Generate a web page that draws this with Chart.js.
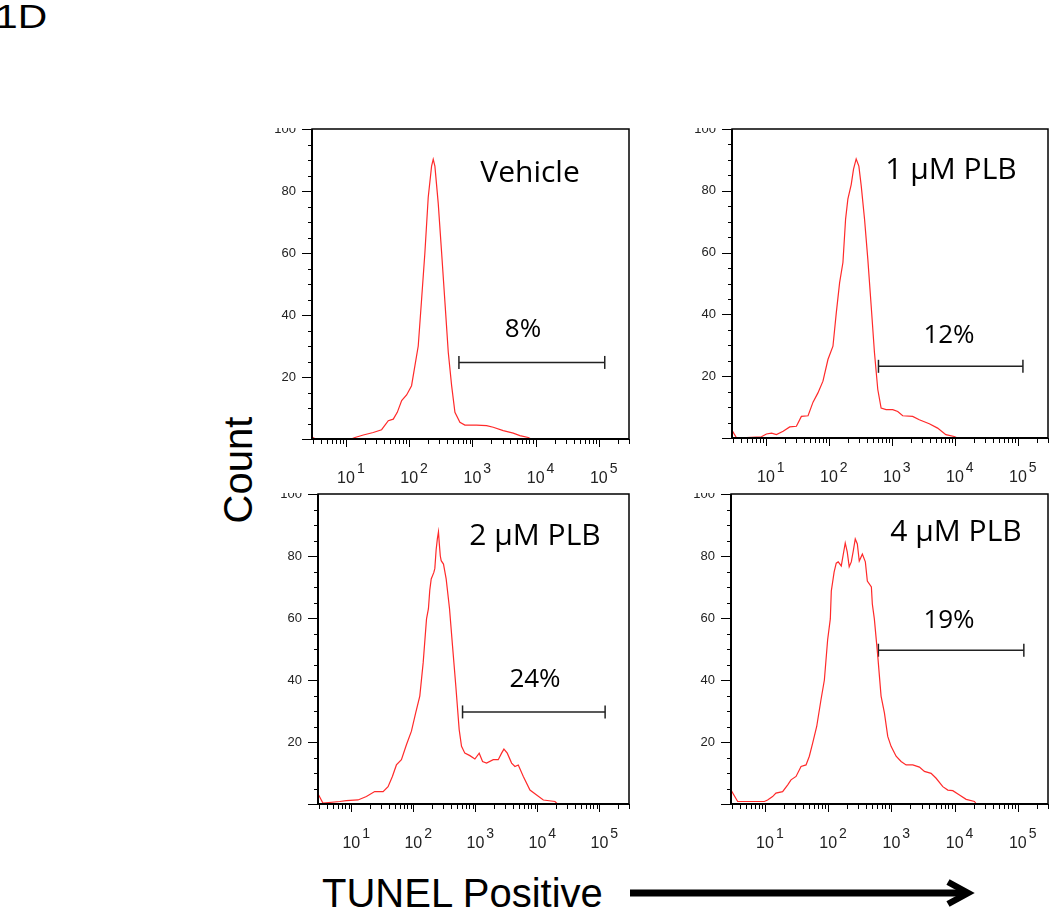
<!DOCTYPE html>
<html>
<head>
<meta charset="utf-8">
<script src="https://cdn.jsdelivr.net/npm/chart.js@4.4.1/dist/chart.umd.min.js"></script>
<style>
    body {
        margin: 0;
        width: 1050px;
        height: 909px;
        position: relative;
        overflow: hidden;
        background: #fff;
    }
    canvas { position: absolute; }
    .txt {
        position: absolute;
        color: #000;
        font-family: "Liberation Sans", Arial, sans-serif;
        line-height: 1;
        white-space: nowrap;
    }
</style>
</head>
<body>
<div class="txt" style="left:-5px; top:-1px; font-size:34px; transform:scaleX(1.2); transform-origin:left top;">1D</div>
<div class="txt" style="left:178px; top:450px; width:120px; text-align:center; font-size:40px; transform:rotate(-90deg);">Count</div>
<div class="txt" style="left:322px; top:873px; font-size:40px;">TUNEL Positive</div>
<svg style="position:absolute; left:0; top:0;" width="1050" height="909">
    <line x1="630" y1="893" x2="966" y2="893" stroke="#000" stroke-width="7"/>
    <polyline points="948,882 968,893 948,904" fill="none" stroke="#000" stroke-width="6.5" stroke-linejoin="miter"/>
</svg>

<canvas id="p1" width="375" height="362" style="left:265px; top:128px;"></canvas>
<canvas id="p2" width="365" height="362" style="left:685px; top:128px;"></canvas>
<canvas id="p3" width="375" height="365" style="left:265px; top:493px;"></canvas>
<canvas id="p4" width="365" height="365" style="left:685px; top:493px;"></canvas>

<script>
// TUNEL intensity (x) and count (y)
const vehicleX = [2.9, 3.3, 12, 13.9, 18.8, 27, 36.6, 46.7, 56, 64.8, 76, 91, 109, 123, 139, 157, 177, 200, 226, 240,
    255, 288, 326, 368, 415, 469, 529, 634, 760, 1163, 1675, 2135, 3070, 4420, 5640, 7640, 8500];
const vehicleY = [0.6, 0, 0, 0.5, 1.3, 2.1, 3, 5.9, 6.4, 8.6, 12.4, 14.2, 17.2, 23.6, 30, 45, 60, 78, 88, 90.2,
    88, 76, 60, 44, 28, 17.2, 8.6, 5.4, 4.5, 4.5, 4.3, 3.8, 2.7, 1.9, 1.1, 0.5, 0];

const plb1X = [2.86, 3.43, 8.5, 10.2, 12.3, 14.7, 18.8, 23.9, 30.5, 36.6, 46.7, 56, 67, 80.5, 96.6, 116, 131, 148, 167, 184,
    200, 226, 246, 271, 299, 326, 368, 415, 469, 529, 597, 674, 809, 1031, 1237, 1484, 2135, 2720, 3920, 5310,
    7180, 9720, 11000];
const plb1Y = [2.7, 0, 0.4, 1.3, 1.6, 1.1, 2.2, 3.6, 3.8, 7, 7.2, 11.6, 14.6, 18.4, 25.4, 29.7, 40.5, 50.3, 56.8, 70.8,
    77.3, 82, 87, 90.3, 88, 81.6, 70.8, 57.8, 42.7, 27.6, 15.7, 9.7, 9.2, 9.2, 8.6, 7.2, 7, 5.9, 4.6, 3.2,
    1.1, 0.5, 0];

const plb2X = [2.97, 3.48, 6.5, 8.3, 12.8, 17.5, 23.8, 32.5, 39.1, 45.9, 53.3, 64.2, 77.3, 93.1, 109, 127, 144, 163, 175, 184,
    194, 214, 222, 233, 244, 254, 262, 272, 281, 306, 338, 383, 428, 484, 548, 598, 676, 815, 982, 1153,
    1306, 1514, 1941, 2338, 2648, 2886, 3268, 3838, 4345, 4920, 5930, 7590, 9720, 12470, 19230, 21000];
const plb2Y = [2.9, 0.3, 0.8, 1.1, 1.3, 2.4, 4, 4, 5.6, 8.9, 12.6, 14.3, 19.1, 23.5, 29.4, 34.8, 45.6, 59.7, 63, 69,
    72.6, 74.7, 76, 82, 85.6, 87.8, 84, 80, 78.5, 77.4, 72.6, 63, 51, 38, 24, 18.6, 16.4, 15.6, 14.5, 16.4,
    13.7, 13.2, 14.3, 14.3, 16.4, 17.7, 16.4, 13.2, 12.1, 12.6, 8.9, 4.5, 2.9, 1.3, 0.8, 0];

const plb4X = [2.9, 3.7, 9.8, 11, 13.2, 14.9, 19, 22.9, 25.8, 31, 37.2, 44.6, 50.3, 56.9, 65.8, 77, 87, 98, 108, 112,
    124, 134, 144, 161, 186, 200, 215, 232, 249, 268, 289, 310, 347, 387, 416, 482, 499, 537, 608, 686,
    775, 875, 988, 1186, 1423, 1707, 2177, 2775, 3328, 4245, 5096, 6500, 7800, 9350, 11930, 15220, 20600, 22000];
const plb4Y = [4.5, 0.8, 0.8, 1.3, 2.4, 3.5, 4, 6.2, 7.8, 8.9, 12.1, 12.6, 15.4, 19.7, 25, 33.7, 40, 53, 59.7, 68.7,
    74.8, 77.7, 78.1, 76.8, 84.2, 81.3, 76.5, 78.1, 81.6, 85.5, 83.9, 78.4, 80.6, 78.1, 71.9, 70, 64.5, 59.7, 47.8, 34.8,
    29.4, 21.8, 18.6, 15.4, 13.7, 12.6, 12.6, 11.9, 10.5, 9.9, 8.3, 5.6, 4.5, 4.3, 2.9, 1.5, 0.8, 0];

const panelTitles = ['Vehicle', '1 µM PLB', '2 µM PLB', '4 µM PLB'];
const gatePercents = ['8%', '12%', '24%', '19%'];
const gateStarts = [612, 612, 621, 622];
const gateEnds = [124000, 120000, 123600, 124400];
const gateLevels = [24.7, 23.2, 29.7, 49.6];

const xTickExponents = [1, 2, 3, 4, 5];
const yTickLabels = [20, 40, 60, 80, 100];

const X_MIN = 2.9;
const X_MAX = 300000;
const AXIS_FONT = '"Liberation Sans", Arial, sans-serif';
const LABEL_FONT = '"Open Sans", sans-serif';

const decor = {
    id: 'decor',
    afterDraw(chart, args, o) {
        const { ctx, chartArea: a } = chart;
        const sx = chart.scales.x;
        const sy = chart.scales.y;
        ctx.save();
        ctx.strokeStyle = '#000';
        ctx.lineWidth = 1;

        // y ticks, minor every 5
        for (let v = 0; v <= 100; v += 5) {
            const py = Math.round(sy.getPixelForValue(v)) + 0.5;
            const len = v % 20 === 0 ? 10 : 4;
            ctx.beginPath();
            ctx.moveTo(a.left - len, py);
            ctx.lineTo(a.left, py);
            ctx.stroke();
        }
        // log x ticks
        for (let e = 0; e <= 5; e++) {
            for (let m = 1; m <= 9; m++) {
                const v = m * 10 ** e;
                if (v < sx.min || v > sx.max) continue;
                const px = Math.round(sx.getPixelForValue(v)) + 0.5;
                const len = m === 1 ? 8 : 5;
                ctx.beginPath();
                ctx.moveTo(px, a.bottom);
                ctx.lineTo(px, a.bottom + len);
                ctx.stroke();
            }
        }

        // frame
        ctx.lineWidth = 1.5;
        ctx.strokeRect(a.left, a.top, a.right - a.left, a.bottom - a.top);
        ctx.lineWidth = 2;
        ctx.beginPath();
        ctx.moveTo(a.left, a.top);
        ctx.lineTo(a.left, a.bottom);
        ctx.lineTo(a.right, a.bottom);
        ctx.stroke();

        // tick labels
        ctx.fillStyle = '#222';
        ctx.font = '13px ' + AXIS_FONT;
        ctx.textAlign = 'right';
        ctx.textBaseline = 'middle';
        yTickLabels.forEach((v) => ctx.fillText(String(v), a.left - 16, sy.getPixelForValue(v)));

        ctx.textBaseline = 'alphabetic';
        xTickExponents.forEach((e) => {
            const px = sx.getPixelForValue(10 ** e);
            ctx.font = '16px ' + AXIS_FONT;
            ctx.textAlign = 'center';
            ctx.fillText('10', px, a.bottom + 44);
            const w = ctx.measureText('10').width;
            ctx.font = '14px ' + AXIS_FONT;
            ctx.textAlign = 'left';
            ctx.fillText(String(e), px + w / 2 + 2, a.bottom + 34);
        });

        // panel title and gate percentage
        ctx.fillStyle = '#000';
        ctx.textAlign = 'center';
        ctx.font = '30px ' + LABEL_FONT;
        ctx.fillText(o.title, a.left + o.titleAt[0], a.top + o.titleAt[1]);
        ctx.font = '26px ' + LABEL_FONT;
        ctx.fillText(o.percent, a.left + o.pctAt[0], a.top + o.pctAt[1]);
        ctx.restore();
    },
};

const panels = [
    { id: 'p1', xs: vehicleX, ys: vehicleY, pad: { left: 47, top: 1, right: 11, bottom: 51 }, titleAt: [218, 53], pctAt: [211, 208] },
    { id: 'p2', xs: plb1X, ys: plb1Y, pad: { left: 47, top: 1, right: 2, bottom: 52 }, titleAt: [219, 50], pctAt: [217, 214] },
    { id: 'p3', xs: plb2X, ys: plb2Y, pad: { left: 53, top: 1, right: 11, bottom: 54 }, titleAt: [217, 51], pctAt: [217, 193] },
    { id: 'p4', xs: plb4X, ys: plb4Y, pad: { left: 46, top: 1, right: 2, bottom: 54 }, titleAt: [225, 47], pctAt: [218, 134] },
];

panels.forEach((p, i) => {
    new Chart(document.getElementById(p.id), {
        type: 'line',
        data: {
            datasets: [
                {
                    data: p.xs.map((x, k) => ({ x, y: p.ys[k] })),
                    borderColor: '#ff2a2a',
                    borderWidth: 1.2,
                    pointRadius: 0,
                    tension: 0,
                    fill: false,
                },
                {
                    data: [
                        { x: gateStarts[i], y: gateLevels[i] },
                        { x: gateEnds[i], y: gateLevels[i] },
                    ],
                    borderColor: '#222',
                    borderWidth: 1.5,
                    pointStyle: 'line',
                    pointRadius: 6.5,
                    pointRotation: 90,
                    pointBorderColor: '#222',
                    pointBorderWidth: 1.5,
                    clip: false,
                },
            ],
        },
        options: {
            responsive: false,
            animation: false,
            devicePixelRatio: 1,
            layout: { padding: p.pad, autoPadding: false },
            plugins: {
                legend: { display: false },
                tooltip: { enabled: false },
                decor: {
                    title: panelTitles[i],
                    percent: gatePercents[i],
                    titleAt: p.titleAt,
                    pctAt: p.pctAt,
                },
            },
            scales: {
                x: { type: 'logarithmic', min: X_MIN, max: X_MAX, display: false },
                y: { type: 'linear', min: 0, max: 100, display: false },
            },
        },
        plugins: [decor],
    });
});
</script>
</body>
</html>
